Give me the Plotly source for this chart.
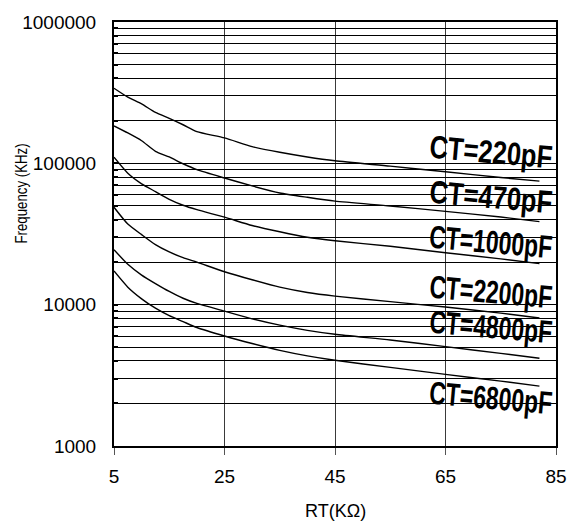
import math
import plotly.graph_objects as go

# ---- data ----
rt_kohm = [5, 7.5, 10, 12.5, 15, 17.5, 20, 25, 30, 35, 40, 45, 55, 65, 75, 82]

freq_220pF = [340000, 294000, 263000, 229000, 208000, 187500, 167500, 151400,
              131200, 119700, 110900, 104200, 95500, 87100, 79400, 74800]
freq_470pF = [184000, 164000, 144500, 121600, 110900, 99300, 90200, 78700,
              69200, 61700, 57500, 54000, 49900, 45700, 41700, 38700]
freq_1000pF = [110400, 85100, 71600, 63100, 55600, 50500, 47000, 41600,
               36300, 32800, 30000, 28300, 25900, 23300, 21100, 19500]
freq_2200pF = [48900, 37200, 31300, 26600, 23600, 21500, 20000, 17100,
               15000, 13300, 12200, 11500, 10500, 9620, 8710, 8050]
freq_4800pF = [24500, 19300, 16200, 14100, 12400, 11100, 10200, 9000,
               7940, 7160, 6580, 6170, 5620, 5050, 4520, 4180]
freq_6800pF = [17300, 13300, 11000, 9440, 8360, 7590, 6890, 6000,
               5310, 4750, 4340, 4040, 3600, 3210, 2880, 2650]

series_names = ["CT=220pF", "CT=470pF", "CT=1000pF", "CT=2200pF", "CT=4800pF", "CT=6800pF"]
series_values = [freq_220pF, freq_470pF, freq_1000pF, freq_2200pF, freq_4800pF, freq_6800pF]

x_ticks = [5, 25, 45, 65, 85]
y_major = [1000, 10000, 100000, 1000000]

# label anchor points (data units)
label_x = 73.2
label_y = [120000, 57500, 27800, 12200, 6900, 2180]

# ---- figure ----
fig = go.Figure()
for name, vals in zip(series_names, series_values):
    fig.add_trace(go.Scatter(
        x=rt_kohm, y=vals, mode="lines", name=name,
        line=dict(color="black", width=1.4, shape="spline", smoothing=0.6),
        showlegend=False, hoverinfo="skip"))

# gridlines at every 1..9 x decade
y_grid = []
for d in range(3, 6):
    for m in range(1, 10):
        y_grid.append(m * 10 ** d)
y_grid.append(1000000)
y_text = [f"{v}" if v in y_major else "" for v in y_grid]

for name, ly in zip(series_names, label_y):
    fig.add_annotation(
        x=label_x, y=math.log10(ly), xref="x", yref="y",
        text=f"<b>{name}</b>", showarrow=False, textangle=5,
        xanchor="center", yanchor="middle",
        font=dict(family="Liberation Sans, Arial, sans-serif", size=32, color="black"))

fig.add_annotation(
    x=0.5, y=-0.153, xref="paper", yref="paper", text="RT(KΩ)", showarrow=False,
    xanchor="center", yanchor="middle",
    font=dict(family="Liberation Sans, Arial, sans-serif", size=18, color="black"))
fig.add_annotation(
    x=-0.2095, y=0.596, xref="paper", yref="paper", text="Frequency (KHz)", showarrow=False,
    textangle=-90, xanchor="center", yanchor="middle",
    font=dict(family="Liberation Sans, Arial, sans-serif", size=17, color="black"))

fig.update_layout(
    width=579, height=529,
    margin=dict(l=114, r=18, t=16, b=83),
    paper_bgcolor="white", plot_bgcolor="white",
    font=dict(family="Liberation Sans, Arial, sans-serif", size=18, color="black"),
    xaxis=dict(
        range=[5, 85], tickvals=x_ticks, ticktext=[str(v) for v in x_ticks],
        showgrid=True, gridcolor="#3a3a3a", gridwidth=1,
        showline=True, linecolor="black", linewidth=1.5, mirror=True,
        ticks="outside", ticklen=7, tickcolor="#555", tickwidth=1,
        ticklabelstandoff=5, zeroline=False,
        tickfont=dict(size=19)),
    yaxis=dict(
        type="log", range=[3, 6], tickvals=y_grid, ticktext=y_text,
        showgrid=True, gridcolor="black", gridwidth=1,
        showline=True, linecolor="black", linewidth=2, mirror=True,
        ticks="inside", ticklen=4, tickcolor="black", tickwidth=2,
        ticklabelstandoff=12, zeroline=False,
        tickfont=dict(size=19)),
)

post = """
document.body.style.margin = '0';
function condense() {
  var gd = document.getElementById('{plot_id}');
  if (!gd) return;
  gd.querySelectorAll('text.annotation-text').forEach(function(t) {
    var s = t.textContent || '';
    var sx = null;
    if (s.indexOf('CT=') === 0) {
      var w = t.getBBox().width;
      sx = w > 0 ? 123 / w : 0.8;
    } else if (s.indexOf('Frequency') === 0) sx = 0.78;
    if (sx !== null) {
      t.style.transformBox = 'fill-box';
      t.style.transformOrigin = 'center';
      t.style.transform = 'scaleX(' + sx + ')';
    }
  });
}
condense();
setTimeout(condense, 0);
setTimeout(condense, 200);
"""

fig.write_html("out.html", post_script=post, config={"displayModeBar": False})
